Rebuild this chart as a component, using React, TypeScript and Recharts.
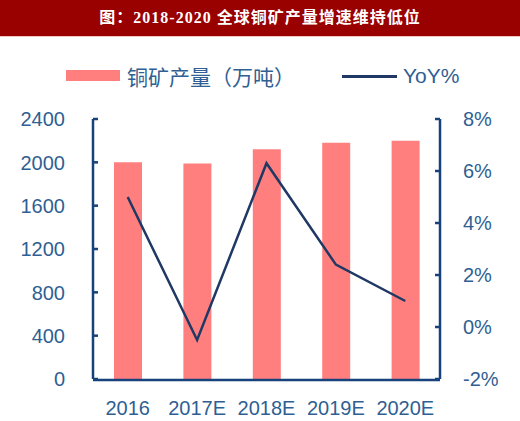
import React from "react";
import { ComposedChart, Bar, Line, XAxis, YAxis } from "recharts";

const years = ["2016", "2017E", "2018E", "2019E", "2020E"];
const output = [2000, 1990, 2120, 2180, 2200];
const yoy = [5.0, -0.5, 6.3, 2.4, 1.0];
const leftTicks = [0, 400, 800, 1200, 1600, 2000, 2400];
const rightTicks = [-2, 0, 2, 4, 6, 8];
const boundaryTicks = [0, 1, 2, 3, 4, 5];

const data = years.map((y, i) => ({ year: y, output: output[i], yoy: yoy[i], idx: i + 0.5 }));

const W = 520;
const H = 421;
const PLOT_L = 93;
const PLOT_R = 440;
const PLOT_T = 119;
const PLOT_B = 379;

const AXIS = "#17427c";
const TEXT = "#2f5f93";
const BAR = "#ff7f7f";
const LINE = "#1f3864";
const FONT = "'Liberation Sans', Arial, sans-serif";

const LeftTick = (props: any) => {
  const { y, payload } = props;
  return (
    <g>
      <line x1={PLOT_L} x2={PLOT_L + 5} y1={y} y2={y} stroke={AXIS} strokeWidth={2.5} />
      <text x={PLOT_L - 28} y={y} dy="0.36em" textAnchor="end" fill={TEXT} fontSize={20} fontFamily={FONT}>
        {payload.value}
      </text>
    </g>
  );
};

const RightTick = (props: any) => {
  const { y, payload } = props;
  return (
    <g>
      <line x1={PLOT_R - 5} x2={PLOT_R} y1={y} y2={y} stroke={AXIS} strokeWidth={2.5} />
      <text x={PLOT_R + 23} y={y} dy="0.36em" textAnchor="start" fill={TEXT} fontSize={20} fontFamily={FONT}>
        {`${payload.value}%`}
      </text>
    </g>
  );
};

const CatTick = (props: any) => {
  const { x, payload } = props;
  return (
    <text x={x} y={PLOT_B + 29} dy="0.36em" textAnchor="middle" fill={TEXT} fontSize={20} fontFamily={FONT}>
      {payload.value}
    </text>
  );
};

export default function App() {
  return (
    <div style={{ position: "absolute", left: 0, top: 0, width: W, height: H, background: "#fff", overflow: "hidden" }}>
      <div
        style={{
          position: "absolute",
          left: 0,
          top: 0,
          width: W,
          height: 36,
          background: "#990000",
          borderBottom: "1.5px solid #f2c4c4",
          color: "#fff",
          fontFamily: "'Liberation Serif', 'Noto Sans CJK SC', serif",
          fontSize: 16,
          fontWeight: "bold",
          lineHeight: "36px",
          textAlign: "center",
          letterSpacing: 1,
        }}
      >
        图：2018-2020 全球铜矿产量增速维持低位
      </div>
      <div style={{ position: "absolute", left: 66, top: 70, width: 54, height: 11, background: BAR }} />
      <div
        style={{
          position: "absolute",
          left: 127,
          top: 61,
          height: 30,
          lineHeight: "30px",
          fontSize: 21,
          color: TEXT,
          fontFamily: "'Noto Sans CJK SC', sans-serif",
          whiteSpace: "nowrap",
        }}
      >
        铜矿产量（万吨）
      </div>
      <div style={{ position: "absolute", left: 342, top: 74.5, width: 55, height: 3, background: LINE }} />
      <div
        style={{
          position: "absolute",
          left: 403,
          top: 61,
          height: 30,
          lineHeight: "30px",
          fontSize: 21,
          color: TEXT,
          fontFamily: FONT,
          whiteSpace: "nowrap",
        }}
      >
        YoY%
      </div>
      <div style={{ position: "absolute", left: 0, top: 0 }}>
        <ComposedChart
          width={W}
          height={H}
          data={data}
          margin={{ top: PLOT_T, left: PLOT_L - 1, right: W - PLOT_R - 1, bottom: H - PLOT_B - 2 }}
        >
          <XAxis
            xAxisId="cat"
            dataKey="year"
            type="category"
            height={1}
            axisLine={{ stroke: AXIS, strokeWidth: 2.5 }}
            tickLine={false}
            tick={<CatTick />}
            interval={0}
          />
          <XAxis
            xAxisId="bound"
            dataKey="idx"
            type="number"
            domain={[0, 5]}
            ticks={boundaryTicks}
            height={1}
            axisLine={false}
            tickLine={{ stroke: AXIS, strokeWidth: 2.5 }}
            tickSize={4}
            tick={false}
            allowDataOverflow
          />
          <YAxis
            yAxisId="l"
            orientation="left"
            width={1}
            domain={[0, 2400]}
            ticks={leftTicks}
            axisLine={{ stroke: AXIS, strokeWidth: 2.5 }}
            tickLine={false}
            tick={<LeftTick />}
            interval={0}
          />
          <YAxis
            yAxisId="r"
            orientation="right"
            width={1}
            domain={[-2, 8]}
            ticks={rightTicks}
            axisLine={{ stroke: AXIS, strokeWidth: 2.5 }}
            tickLine={false}
            tick={<RightTick />}
            interval={0}
          />
          <Bar xAxisId="cat" yAxisId="l" dataKey="output" fill={BAR} barSize={28} isAnimationActive={false} />
          <Line
            xAxisId="cat"
            yAxisId="r"
            dataKey="yoy"
            type="linear"
            stroke={LINE}
            strokeWidth={2.5}
            dot={false}
            activeDot={false}
            isAnimationActive={false}
          />
        </ComposedChart>
      </div>
    </div>
  );
}
